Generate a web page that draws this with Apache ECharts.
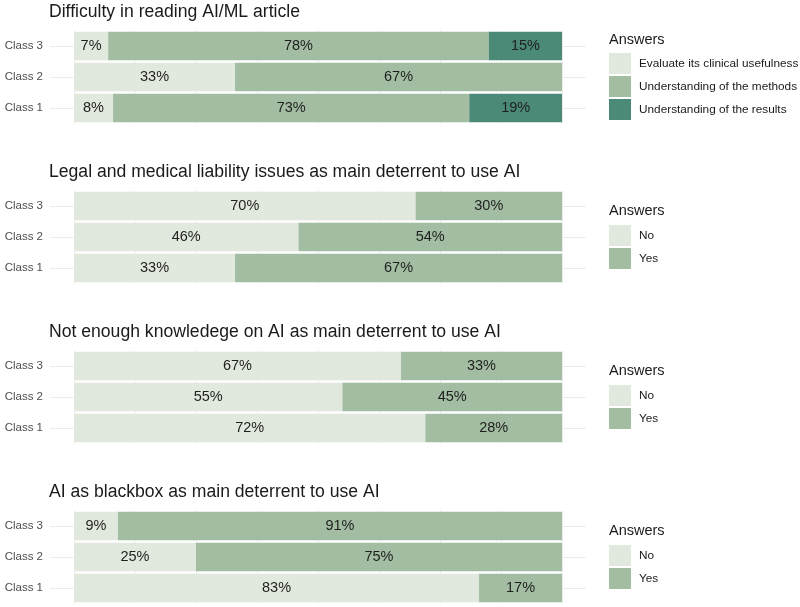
<!DOCTYPE html>
<html>
<head>
<meta charset="utf-8">
<script src="https://cdn.jsdelivr.net/npm/echarts@6/dist/echarts.min.js"></script>
<style>
html,body{margin:0;padding:0;background:#fff;}
#chart{width:800px;height:607px;}
</style>
</head>
<body>
<div id="chart"></div>
<script>
// ---- Data ----
const categories = ['Class 1', 'Class 2', 'Class 3'];

const panelTitles = [
  'Difficulty in reading AI/ML article',
  'Legal and medical liability issues as main deterrent to use AI',
  'Not enough knowledege on AI as main deterrent to use AI',
  'AI as blackbox as main deterrent to use AI'
];
const legendTitle = 'Answers';

// Panel 1
const p1Names = ['Evaluate its clinical usefulness', 'Understanding of the methods', 'Understanding of the results'];
const p1Evaluate = [8, 33, 7];
const p1Methods = [73, 67, 78];
const p1Results = [19, null, 15];

// Panels 2-4 (No / Yes)
const ynNames = ['No', 'Yes'];
const p2No = [33, 46, 70];
const p2Yes = [67, 54, 30];
const p3No = [72, 55, 67];
const p3Yes = [28, 45, 33];
const p4No = [83, 25, 9];
const p4Yes = [17, 75, 91];

// ---- Style ----
const cLight = '#e1e8de';
const cMid = '#a3bda2';
const cDark = '#4b8a77';
const gridColor = '#ebebeb';
const minorColor = '#f2f2f2';

const gridTops = [30.5, 190.5, 350.5, 510.5];
const gridH = 93;
const titleTops = [3, 163, 323, 483];
const legendTitleTops = [32, 203, 363, 523];
const legendTops = [53, 225, 385, 545];

const panels = [
  {names: p1Names, data: [p1Evaluate, p1Methods, p1Results], colors: [cLight, cMid, cDark]},
  {names: ynNames, data: [p2No, p2Yes], colors: [cLight, cMid]},
  {names: ynNames, data: [p3No, p3Yes], colors: [cLight, cMid]},
  {names: ynNames, data: [p4No, p4Yes], colors: [cLight, cMid]}
];

const grid = [], xAxis = [], yAxis = [], series = [], title = [], legend = [];

panels.forEach((p, i) => {
  grid.push({left: 74, width: 488, top: gridTops[i], height: gridH});
  xAxis.push({
    type: 'value', gridIndex: i, min: 0, max: 100, interval: 25,
    axisLabel: {show: false}, axisLine: {show: false}, axisTick: {show: false},
    splitLine: {show: true, lineStyle: {color: gridColor, width: 1}},
    minorTick: {show: false, splitNumber: 2},
    minorSplitLine: {show: true, lineStyle: {color: minorColor, width: 1}}
  });
  yAxis.push({
    type: 'category', gridIndex: i, data: categories, position: 'left',
    axisLine: {show: false},
    axisTick: {show: true, alignWithLabel: true, length: 24, lineStyle: {color: gridColor}},
    axisLabel: {margin: 31, color: '#4d4d4d', fontSize: 11.5, fontFamily: 'Liberation Sans, Arial, sans-serif'}
  });
  yAxis.push({
    type: 'category', gridIndex: i, data: categories, position: 'right',
    axisLine: {show: false},
    axisTick: {show: true, alignWithLabel: true, length: 24, lineStyle: {color: gridColor}},
    axisLabel: {show: false}
  });
  p.names.forEach((nm, k) => {
    series.push({
      name: nm, type: 'bar', stack: 'p' + i,
      xAxisIndex: i, yAxisIndex: i * 2,
      data: p.data[k],
      barCategoryGap: '8%',
      itemStyle: {color: p.colors[k]},
      label: {
        show: true, position: 'inside',
        formatter: (d) => (d.value == null ? '' : d.value + '%'),
        color: '#1f1f1f', fontSize: 14.5, fontFamily: 'Liberation Sans, Arial, sans-serif'
      },
      emphasis: {disabled: true}
    });
  });
  title.push({
    text: panelTitles[i], left: 49, top: titleTops[i], padding: 0,
    textStyle: {fontSize: 17.6, fontWeight: 'normal', color: '#1a1a1a', fontFamily: 'Liberation Sans, Arial, sans-serif'}
  });
  title.push({
    text: legendTitle, left: 609, top: legendTitleTops[i], padding: 0,
    textStyle: {fontSize: 14.5, fontWeight: 'normal', color: '#1a1a1a', fontFamily: 'Liberation Sans, Arial, sans-serif'}
  });
  legend.push({
    data: p.names.map(n => ({name: n, icon: 'rect'})),
    orient: 'vertical', left: 609, top: legendTops[i], padding: 0,
    itemWidth: 22, itemHeight: 21, itemGap: 2,
    selectedMode: false,
    textStyle: {fontSize: 11.8, color: '#1a1a1a', padding: [0, 0, 0, 3], fontFamily: 'Liberation Sans, Arial, sans-serif'}
  });
});

const chart = echarts.init(document.getElementById('chart'), null, {renderer: 'canvas'});
chart.setOption({
  backgroundColor: '#ffffff',
  animation: false,
  title, legend, grid, xAxis, yAxis, series
});
</script>
</body>
</html>
